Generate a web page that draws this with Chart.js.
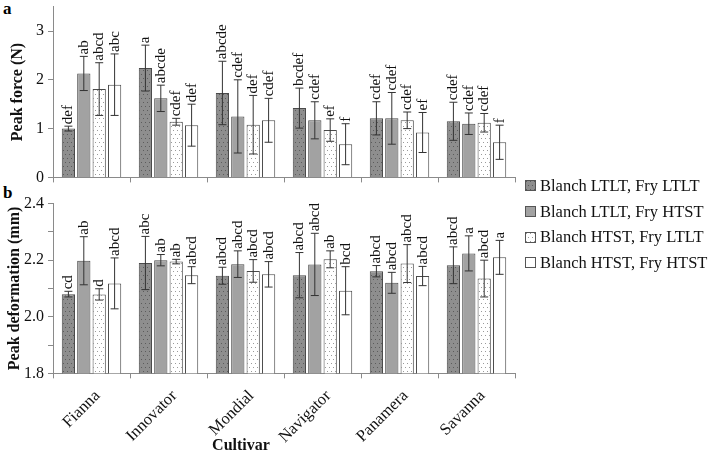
<!DOCTYPE html>
<html>
<head>
<meta charset="utf-8">
<script src="https://cdn.jsdelivr.net/npm/chart.js@4.4.1/dist/chart.umd.min.js"></script>
<style>
    body { margin: 0; background: #fff; width: 708px; height: 458px; position: relative; overflow: hidden; font-family: "Liberation Serif", serif; }
    #forceWrap { position: absolute; left: 0; top: -7px; width: 520px; height: 198px; }
    #deformWrap { position: absolute; left: 0; top: 190px; width: 520px; height: 268px; }
    .panel { position: absolute; left: 3px; font-weight: bold; font-size: 17px; line-height: 1; }
    #legend { position: absolute; left: 525px; top: 173px; font-size: 16.5px; color: #111; }
    #legend div { height: 25.7px; display: flex; align-items: center; white-space: nowrap; }
    #legend canvas { margin-right: 4px; }
</style>
</head>
<body>
<div class="panel" style="top:0px">a</div>
<div class="panel" style="top:184px">b</div>
<div id="forceWrap"><canvas id="forceChart" width="520" height="198"></canvas></div>
<div id="deformWrap"><canvas id="deformChart" width="520" height="268"></canvas></div>
<div id="legend"></div>
<script>
const cultivars = ['Fianna', 'Innovator', 'Mondial', 'Navigator', 'Panamera', 'Savanna'];
const treatments = ['Blanch LTLT, Fry LTLT', 'Blanch LTLT, Fry HTST', 'Blanch HTST, Fry LTLT', 'Blanch HTST, Fry HTST'];

// Peak force (N), mean and error per treatment
const forceLL = [1.00, 2.24, 1.73, 1.42, 1.21, 1.15];
const forceLH = [2.13, 1.62, 1.25, 1.17, 1.21, 1.10];
const forceHL = [1.81, 1.14, 1.08, 0.97, 1.17, 1.12];
const forceHH = [1.90, 1.07, 1.17, 0.68, 0.92, 0.72];
const forceErrLL = [0.05, 0.47, 0.65, 0.41, 0.34, 0.39];
const forceErrLH = [0.35, 0.27, 0.75, 0.38, 0.53, 0.22];
const forceErrHL = [0.54, 0.07, 0.60, 0.23, 0.17, 0.19];
const forceErrHH = [0.63, 0.43, 0.45, 0.42, 0.41, 0.35];
const forceLetLL = ['def', 'a', 'abcde', 'bcdef', 'cdef', 'cdef'];
const forceLetLH = ['ab', 'abcde', 'cdef', 'cdef', 'cdef', 'cdef'];
const forceLetHL = ['abcd', 'cdef', 'def', 'ef', 'cdef', 'cdef'];
const forceLetHH = ['abc', 'def', 'cdef', 'f', 'ef', 'f'];

// Peak deformation (mm)
const deformLL = [2.08, 2.19, 2.145, 2.147, 2.161, 2.182];
const deformLH = [2.198, 2.20, 2.186, 2.185, 2.12, 2.224];
const deformHL = [2.079, 2.195, 2.162, 2.203, 2.188, 2.135];
const deformHH = [2.118, 2.147, 2.15, 2.092, 2.144, 2.21];
const deformErrLL = [0.01, 0.094, 0.03, 0.08, 0.02, 0.065];
const deformErrLH = [0.085, 0.02, 0.047, 0.11, 0.037, 0.062];
const deformErrHL = [0.02, 0.008, 0.04, 0.03, 0.067, 0.065];
const deformErrHH = [0.09, 0.03, 0.045, 0.085, 0.034, 0.06];
const deformLetLL = ['cd', 'abc', 'abcd', 'abcd', 'abcd', 'abcd'];
const deformLetLH = ['ab', 'ab', 'abcd', 'abcd', 'abcd', 'a'];
const deformLetHL = ['d', 'ab', 'abcd', 'ab', 'abcd', 'abcd'];
const deformLetHH = ['abcd', 'abcd', 'abcd', 'bcd', 'abcd', 'a'];

const forceTicks = [0, 1, 2, 3];
const deformLabelTicks = ['1.8', '2.0', '2.2', '2.4'];

const axisColor = '#8a8a8a';
const barBorder = '#4a4a4a';
const serif = '"Liberation Serif", "Times New Roman", serif';

function dotPattern(bg, dot) {
    const c = document.createElement('canvas');
    c.width = 4;
    c.height = 8;
    const g = c.getContext('2d');
    g.fillStyle = bg;
    g.fillRect(0, 0, 4, 8);
    g.fillStyle = dot;
    g.fillRect(1, 1, 1, 1);
    g.fillRect(3, 5, 1, 1);
    return g.createPattern(c, 'repeat');
}

const fills = [
    dotPattern('#8e8e8e', '#5c5c5c'),
    '#a2a2a2',
    dotPattern('#ffffff', '#9a9a9a'),
    '#ffffff',
];

function makeDatasets(means, errs, letters) {
    return means.map((m, i) => ({
        label: treatments[i],
        data: m,
        errors: errs[i],
        letters: letters[i],
        backgroundColor: fills[i],
        borderColor: barBorder,
        borderWidth: 1,
        categoryPercentage: 0.8,
        barPercentage: 0.86,
    }));
}

// error bars + significance letters
const errorBarPlugin = {
    id: 'errorBars',
    afterDatasetsDraw(chart) {
        const ctx = chart.ctx;
        const y = chart.scales.y;
        ctx.save();
        chart.data.datasets.forEach((ds, i) => {
            const meta = chart.getDatasetMeta(i);
            meta.data.forEach((bar, j) => {
                const v = ds.data[j];
                const e = ds.errors[j];
                const top = y.getPixelForValue(v + e);
                const bot = y.getPixelForValue(v - e);
                ctx.strokeStyle = '#333';
                ctx.lineWidth = 1;
                ctx.beginPath();
                ctx.moveTo(bar.x, top);
                ctx.lineTo(bar.x, bot);
                ctx.moveTo(bar.x - 4, top);
                ctx.lineTo(bar.x + 4, top);
                ctx.moveTo(bar.x - 4, bot);
                ctx.lineTo(bar.x + 4, bot);
                ctx.stroke();

                ctx.save();
                ctx.translate(bar.x, top - 2);
                ctx.rotate(-Math.PI / 2);
                ctx.fillStyle = '#111';
                ctx.font = '15px ' + serif;
                ctx.textAlign = 'left';
                ctx.textBaseline = 'middle';
                ctx.fillText(ds.letters[j], 0, 0);
                ctx.restore();
            });
        });
        ctx.restore();
    },
};

const cultivarTitle = {
    id: 'cultivarTitle',
    afterDraw(chart) {
        const ctx = chart.ctx;
        ctx.save();
        ctx.fillStyle = '#111';
        ctx.font = 'bold 16px ' + serif;
        ctx.textAlign = 'center';
        ctx.textBaseline = 'middle';
        ctx.fillText('Cultivar', 241, chart.height - 12);
        ctx.restore();
    },
};

function baseOptions(yOpts, showX, padBottom) {
    return {
        responsive: false,
        animation: false,
        layout: { padding: { left: 0, right: 5, top: 0, bottom: padBottom } },
        plugins: { legend: { display: false }, tooltip: { enabled: false } },
        scales: {
            x: {
                grid: { drawOnChartArea: false, tickLength: 5, color: axisColor },
                border: { color: axisColor },
                ticks: {
                    display: showX,
                    color: '#111',
                    font: { size: 16.5 },
                    minRotation: 45,
                    maxRotation: 45,
                    padding: 8,
                    labelOffset: 6,
                },
            },
            y: yOpts,
        },
    };
}

function build() {
    Chart.defaults.font.family = serif;

    const forceChart = new Chart(document.getElementById('forceChart'), {
        type: 'bar',
        data: {
            labels: cultivars,
            datasets: makeDatasets(
                [forceLL, forceLH, forceHL, forceHH],
                [forceErrLL, forceErrLH, forceErrHL, forceErrHH],
                [forceLetLL, forceLetLH, forceLetHL, forceLetHH]
            ),
        },
        options: baseOptions({
            min: 0,
            max: 3.5,
            afterFit(scale) { scale.width = 53; },
            afterBuildTicks(scale) {
                scale.ticks = forceTicks.map(v => ({ value: v }));
            },
            grid: { drawOnChartArea: false, tickLength: 5, color: axisColor },
            border: { color: axisColor },
            ticks: { color: '#111', font: { size: 16 }, padding: 4 },
            title: {
                display: true,
                text: 'Peak force (N)',
                color: '#111',
                font: { size: 16, weight: 'bold' },
                padding: { top: 8, bottom: 0 },
            },
        }, false, 0),
        plugins: [errorBarPlugin],
    });

    new Chart(document.getElementById('deformChart'), {
        type: 'bar',
        data: {
            labels: cultivars,
            datasets: makeDatasets(
                [deformLL, deformLH, deformHL, deformHH],
                [deformErrLL, deformErrLH, deformErrHL, deformErrHH],
                [deformLetLL, deformLetLH, deformLetHL, deformLetHH]
            ),
        },
        options: baseOptions({
            min: 1.8,
            max: 2.4,
            afterFit(scale) { scale.width = 53; },
            grid: { drawOnChartArea: false, tickLength: 5, color: axisColor },
            border: { color: axisColor },
            ticks: {
                stepSize: 0.1,
                color: '#111',
                font: { size: 16 },
                padding: 4,
                callback(value) {
                    const s = value.toFixed(1);
                    return deformLabelTicks.includes(s) ? s : '';
                },
            },
            title: {
                display: true,
                text: 'Peak deformation (mm)',
                color: '#111',
                font: { size: 16, weight: 'bold' },
                padding: { top: 5, bottom: 0 },
            },
        }, true, 3),
        plugins: [errorBarPlugin, cultivarTitle],
    });

    // legend built from the chart's own legend items
    const legendEl = document.getElementById('legend');
    forceChart.options.plugins.legend.labels.generateLabels(forceChart).forEach(item => {
        const row = document.createElement('div');
        const sw = document.createElement('canvas');
        sw.width = 11;
        sw.height = 11;
        const g = sw.getContext('2d');
        g.fillStyle = item.fillStyle;
        g.fillRect(0.5, 0.5, 10, 10);
        g.strokeStyle = '#555';
        g.lineWidth = 1;
        g.strokeRect(0.5, 0.5, 10, 10);
        row.appendChild(sw);
        row.appendChild(document.createTextNode(item.text));
        legendEl.appendChild(row);
    });
}

Promise.all([
    document.fonts.load('16px "Liberation Serif"'),
    document.fonts.load('bold 16px "Liberation Serif"'),
]).then(build, build);
</script>
</body>
</html>
